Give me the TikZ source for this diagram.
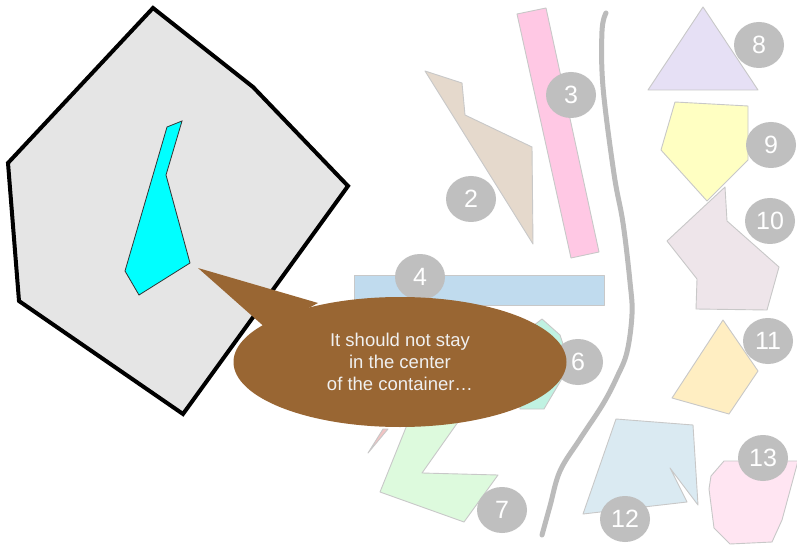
\documentclass[tikz,border=0pt]{standalone}
\usepackage{fontspec}
\setmainfont{Liberation Sans}
\usetikzlibrary{shapes.geometric}
\definecolor{brownc}{HTML}{996633}
\definecolor{lblgray}{HTML}{BFBFBF}
\definecolor{edgegray}{HTML}{C8C8C8}
\definecolor{contfill}{HTML}{E5E5E5}
\definecolor{ccyan}{HTML}{00FFFF}
\definecolor{cbeige}{HTML}{E5D9CC}
\definecolor{cpink}{HTML}{FFC8E4}
\definecolor{cblue}{HTML}{C0DBEE}
\definecolor{csliver}{HTML}{F2C4C4}
\definecolor{cmint}{HTML}{C0F2E2}
\definecolor{cgreen}{HTML}{DDFADD}
\definecolor{clav}{HTML}{E6E0F5}
\definecolor{cyel}{HTML}{FFFFC2}
\definecolor{cmauve}{HTML}{EEE5EA}
\definecolor{cpeach}{HTML}{FFEEC2}
\definecolor{cltblue}{HTML}{DAEAF2}
\definecolor{cltpink}{HTML}{FFE5F2}
\definecolor{curvegray}{HTML}{BBBBBB}
\tikzset{
  piece/.style={draw=edgegray, line width=0.9pt, line join=round},
  numlabel/.style={ellipse, fill=lblgray, minimum width=50pt, minimum height=46pt, inner sep=0pt,
    text=white, font=\fontsize{25}{25}\selectfont},
  callout/.style={ellipse, fill=brownc, minimum width=333pt, minimum height=130pt, inner sep=0pt,
    text=white!94!black, align=center, font=\fontsize{18.5}{22}\selectfont}
}
\begin{document}
\begin{tikzpicture}[x=1pt,y=-1pt]
\useasboundingbox (0,0) rectangle (797,545);
\fill[white] (0,0) rectangle (797,545);

% container
\draw[line width=4pt, fill=contfill] (153,8) -- (253,87) -- (348,186) -- (183,414) -- (19,301) -- (8,163) -- cycle;
\draw[fill=ccyan, draw=black!80, line width=0.8pt] (167,127) -- (182,121) -- (166,175) -- (190,263) -- (139,295) -- (125,271) -- cycle;

% pieces
\draw[piece, fill=cbeige] (425,71) -- (462,83) -- (465,115) -- (532,147) -- (533,244) -- cycle;
\draw[piece, fill=cpink] (517,14) -- (546,8) -- (599,252) -- (571,258) -- cycle;
\draw[piece, fill=cblue] (354,275) rectangle (604,305);
\draw[piece, fill=csliver] (368,453) -- (383,429) -- (388,429) -- cycle;
\draw[piece, fill=cmint] (542,319) -- (560,335) -- (570,365) -- (544,409) -- (520,409) -- (515,340) -- cycle;
\draw[piece, fill=cgreen] (415,405) -- (470,405) -- (422,473) -- (498,475) -- (464,522) -- (380,492) -- cycle;
\draw[piece, fill=clav] (703,7) -- (758,90) -- (648,90) -- cycle;
\draw[piece, fill=cyel] (675,102) -- (748,106) -- (748,160) -- (707,201) -- (661,150) -- cycle;
\draw[piece, fill=cmauve] (725,187) -- (727,221) -- (779,267) -- (767,310) -- (696,309) -- (697,279) -- (667,241) -- cycle;
\draw[piece, fill=cpeach] (723,320) -- (758,371) -- (729,414) -- (672,398) -- cycle;
\draw[piece, fill=cltblue] (616,419) -- (693,425) -- (698,505) -- (670,468) -- (687,502) -- (583,514) -- cycle;
\draw[piece, fill=cltpink] (724,461) -- (798,461) -- (782,520) -- (772,542) -- (730,544) -- (714,528) -- (709,489) -- (711,476) -- cycle;

% gray curve
\draw[curvegray, line width=5pt, line cap=round, line join=round]
  plot[smooth, tension=0.6] coordinates {(606,13) (602,31) (603,87) (614,174) (623,223) (630,282) (632,314) (627,352) (617,377) (603,404) (580,439) (560,471) (550,506) (542,535)};

% labels
\node[numlabel] (l2) at (471,199) {2};
\node[numlabel] (l3) at (571,95) {3};
\node[numlabel] (l4) at (420,277) {4};
\node[numlabel] (l6) at (578,362) {6};
\node[numlabel] (l7) at (502,510) {7};
\node[numlabel] (l8) at (759,45) {8};
\node[numlabel] (l9) at (771,145) {9};
\node[numlabel] (l10) at (770,221) {10};
\node[numlabel] (l11) at (768,341) {11};
\node[numlabel] (l12) at (625,519) {12};
\node[numlabel] (l13) at (763,458) {13};

% callout
\coordinate (tip) at (198,268);
\fill[brownc] (tip) -- (318,303) -- (268,330) -- cycle;
\node[callout] (co) at (400,362) {It should not stay\\in the center\\of the container…};
\end{tikzpicture}
\end{document}
